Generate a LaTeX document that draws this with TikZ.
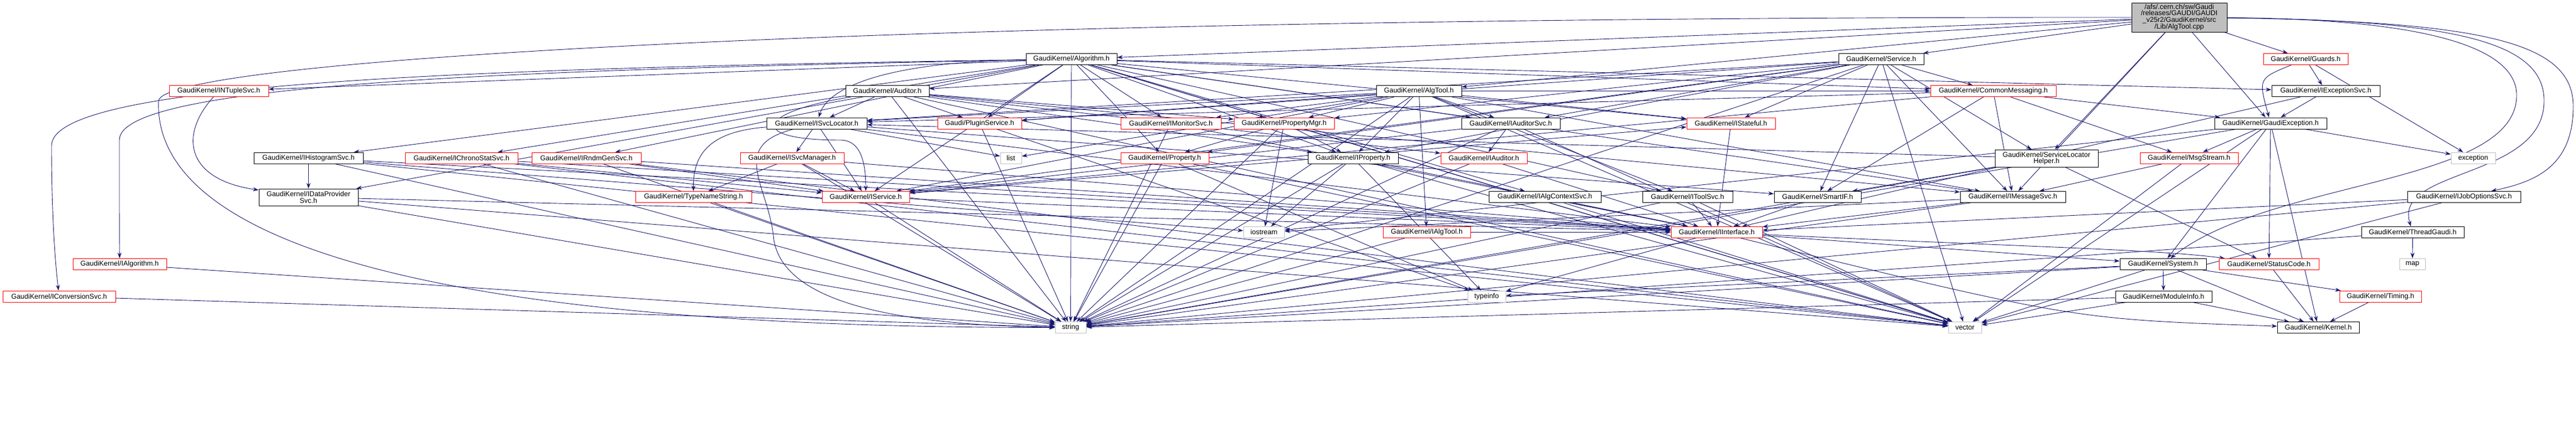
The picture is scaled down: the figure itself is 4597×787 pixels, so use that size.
\documentclass[tikz,border=0pt]{standalone}
\usepackage{fontspec}
\setmainfont{Liberation Sans}
\usetikzlibrary{arrows.meta}
\definecolor{edgec}{HTML}{191970}
\definecolor{grayb}{HTML}{BFBFBF}
\definecolor{ttlfill}{HTML}{BFBFBF}
\pgfdeclarelayer{bg}
\pgfsetlayers{bg,main}
\tikzset{
  box/.style={draw, fill=white, line width=1pt, inner sep=0pt, minimum height=20pt,
    align=center, font=\fontsize{12.5pt}{11.2pt}\selectfont},
  bk/.style={box, draw=black},
  rd/.style={box, draw=red},
  gy/.style={box, draw=grayb},
  e/.style={draw=edgec, line width=0.9pt, -{Stealth[length=10pt,width=7pt]}},
}
\begin{document}
\begin{tikzpicture}[x=1pt,y=-1pt]
\useasboundingbox (0,0) rectangle (4597,787);
% row 0
\node[bk,fill=ttlfill,minimum width=170pt,minimum height=52pt] (T) at (3889,31)
  {/afs/.cern.ch/sw/Gaudi\\/releases/GAUDI/GAUDI\\\_v25r2/GaudiKernel/src\\/Lib/AlgTool.cpp};
% row 1
\node[bk,minimum width=162pt] (Alg) at (1912,105.5) {GaudiKernel/Algorithm.h};
\node[bk,minimum width=152pt] (Svc) at (3357,105.5) {GaudiKernel/Service.h};
\node[rd,minimum width=151pt] (Guards) at (4114.5,105.5) {GaudiKernel/Guards.h};
% row 2
\node[rd,minimum width=177pt] (INTuple) at (390.5,162.5) {GaudiKernel/INTupleSvc.h};
\node[bk,minimum width=149pt] (Auditor) at (1583.5,162.5) {GaudiKernel/Auditor.h};
\node[bk,minimum width=152pt] (AlgTool) at (2532,162.5) {GaudiKernel/AlgTool.h};
\node[rd,minimum width=224pt] (CommonMsg) at (3557,162.5) {GaudiKernel/CommonMessaging.h};
\node[bk,minimum width=193pt] (IExcSvc) at (4150.5,162.5) {GaudiKernel/IExceptionSvc.h};
% row 3
\node[bk,minimum width=179pt] (ISvcLoc) at (1457.5,220) {GaudiKernel/ISvcLocator.h};
\node[rd,minimum width=150pt] (Plugin) at (1748,220) {Gaudi/PluginService.h};
\node[rd,minimum width=179pt] (IMonSvc) at (2089.5,220) {GaudiKernel/IMonitorSvc.h};
\node[rd,minimum width=179pt] (PropMgr) at (2291.5,220) {GaudiKernel/PropertyMgr.h};
\node[bk,minimum width=176pt] (IAudSvc) at (2696,220) {GaudiKernel/IAuditorSvc.h};
\node[rd,minimum width=158pt] (IStateful) at (3089,220) {GaudiKernel/IStateful.h};
\node[bk,minimum width=200pt] (GExc) at (4052,220) {GaudiKernel/GaudiException.h};
% row 4
\node[bk,minimum width=195pt] (IHist) at (550.5,282) {GaudiKernel/IHistogramSvc.h};
\node[rd,minimum width=201pt] (IChrono) at (823.5,282) {GaudiKernel/IChronoStatSvc.h};
\node[rd,minimum width=195pt] (IRndm) at (1046.5,282) {GaudiKernel/IRndmGenSvc.h};
\node[rd,minimum width=185pt] (ISvcMgr) at (1413.5,282) {GaudiKernel/ISvcManager.h};
\node[gy,minimum width=38pt] (list) at (1804,282) {list};
\node[rd,minimum width=157pt] (Prop) at (2078.5,282) {GaudiKernel/Property.h};
\node[bk,minimum width=161pt] (IProp) at (2414.5,282) {GaudiKernel/IProperty.h};
\node[rd,minimum width=154pt] (IAud) at (2648,282) {GaudiKernel/IAuditor.h};
\node[bk,minimum width=184pt,minimum height=31pt] (SLH) at (3652,282.5) {GaudiKernel/ServiceLocator\\Helper.h};
\node[rd,minimum width=175pt] (MsgStr) at (3906.5,282) {GaudiKernel/MsgStream.h};
\node[gy,minimum width=79pt] (exception) at (4413.5,282) {exception};
% row 5
\node[bk,minimum width=177pt,minimum height=30pt] (IDP) at (550.5,352) {GaudiKernel/IDataProvider\\Svc.h};
\node[rd,minimum width=207pt] (TNS) at (1237.5,351.5) {GaudiKernel/TypeNameString.h};
\node[rd,minimum width=156pt] (IService) at (1545,351.5) {GaudiKernel/IService.h};
\node[bk,minimum width=200pt] (IAlgCtx) at (2757,351.5) {GaudiKernel/IAlgContextSvc.h};
\node[bk,minimum width=161pt] (IToolSvc) at (3011.5,351.5) {GaudiKernel/IToolSvc.h};
\node[bk,minimum width=155pt] (SmartIF) at (3243.5,351.5) {GaudiKernel/SmartIF.h};
\node[bk,minimum width=188pt] (IMsgSvc) at (3592,351.5) {GaudiKernel/IMessageSvc.h};
\node[bk,minimum width=202pt] (IJobOpt) at (4397,351.5) {GaudiKernel/IJobOptionsSvc.h};
% row 6
\node[gy,minimum width=73pt] (iostream) at (2255.5,414.5) {iostream};
\node[rd,minimum width=156pt] (IAlgTool) at (2546,414.5) {GaudiKernel/IAlgTool.h};
\node[rd,minimum width=163pt] (IInterface) at (3063.5,414.5) {GaudiKernel/IInterface.h};
\node[bk,minimum width=183pt] (ThreadG) at (4305.5,414.5) {GaudiKernel/ThreadGaudi.h};
% row 7
\node[rd,minimum width=167pt] (IAlgorithm) at (213.5,471.5) {GaudiKernel/IAlgorithm.h};
\node[bk,minimum width=154pt] (System) at (3860,471.5) {GaudiKernel/System.h};
\node[rd,minimum width=178pt] (StatusCode) at (4049,471.5) {GaudiKernel/StatusCode.h};
\node[gy,minimum width=46pt] (map) at (4305,471.5) {map};
% row 8
\node[rd,minimum width=201pt] (IConv) at (105.5,529) {GaudiKernel/IConversionSvc.h};
\node[gy,minimum width=68pt] (typeinfo) at (2653,529) {typeinfo};
\node[bk,minimum width=172pt] (ModuleInfo) at (3861,529) {GaudiKernel/ModuleInfo.h};
\node[rd,minimum width=146pt] (Timing) at (4248,529) {GaudiKernel/Timing.h};
% row 9
\node[gy,minimum width=55pt] (string) at (1910.5,584.5) {string};
\node[gy,minimum width=59pt] (vector) at (3506.5,584.5) {vector};
\node[bk,minimum width=146pt] (Kernel) at (4137,584.5) {GaudiKernel/Kernel.h};

\begin{pgfonlayer}{bg}
\foreach \a/\b in {T/Alg, T/Svc, T/AlgTool, T/Auditor, T/IMsgSvc, T/SLH, T/GExc, T/Guards,
  Alg/IProp, Alg/IService, Alg/PropMgr, Alg/IMsgSvc, Alg/IStateful, Alg/string,
  Alg/vector, Alg/IDP, Alg/IHist, Alg/INTuple, Alg/IChrono, Alg/IRndm, Alg/IAudSvc,
  Alg/IToolSvc, Alg/IMonSvc, Alg/IExcSvc, Alg/IAlgCtx, Alg/Prop, Alg/CommonMsg, Alg/Plugin,
  AlgTool/IAlgTool, AlgTool/IProp, AlgTool/IService, AlgTool/ISvcLoc, AlgTool/IMsgSvc,
  AlgTool/IToolSvc, AlgTool/PropMgr, AlgTool/IAudSvc, AlgTool/IMonSvc, AlgTool/IStateful,
  AlgTool/CommonMsg, AlgTool/Plugin, AlgTool/list, AlgTool/vector, AlgTool/string,
  Svc/IService, Svc/ISvcLoc, Svc/SLH, Svc/IProp, Svc/PropMgr, Svc/Prop, Svc/IAudSvc,
  Svc/CommonMsg, Svc/SmartIF, Svc/IStateful, Svc/Plugin, Svc/IMsgSvc, Svc/string, Svc/vector,
  Auditor/IAud, Auditor/ISvcLoc, Auditor/PropMgr, Auditor/IMsgSvc,
  Auditor/Plugin, Auditor/IProp, Auditor/string, Auditor/vector,
  CommonMsg/IService, CommonMsg/ISvcLoc, CommonMsg/IMsgSvc, CommonMsg/MsgStr,
  CommonMsg/SmartIF, CommonMsg/GExc,
  IHist/IDP, IHist/IInterface, IHist/string, IHist/vector, IHist/iostream,
  IDP/IInterface, IDP/string, IDP/vector,
  IChrono/IService, IChrono/string, IChrono/vector, IChrono/IInterface,
  IRndm/IService, IRndm/string, IRndm/vector, IRndm/IInterface,
  ISvcMgr/TNS, ISvcMgr/IService, ISvcMgr/string, ISvcMgr/IInterface,
  ISvcLoc/ISvcMgr, ISvcLoc/IService, ISvcLoc/IInterface, ISvcLoc/SmartIF,
  ISvcLoc/list,
  IService/IStateful, IService/IInterface, IService/string,
  TNS/string, Plugin/string, Plugin/typeinfo, IMonSvc/string, IMonSvc/IInterface,
  PropMgr/Prop, PropMgr/IProp, PropMgr/iostream, PropMgr/string, PropMgr/vector,
  Prop/string, Prop/typeinfo, Prop/vector,
  IProp/IInterface, IProp/string, IProp/vector, IProp/typeinfo, IProp/iostream,
  IAud/IInterface, IAud/string,
  IAudSvc/IAud, IAudSvc/IService, IAudSvc/string, IAudSvc/vector,
  IAlgCtx/IInterface, IAlgCtx/vector, IAlgTool/IInterface, IAlgTool/string,
  IStateful/IInterface, IToolSvc/IInterface, IToolSvc/string, IToolSvc/vector,
  SmartIF/IInterface, IInterface/System, IInterface/typeinfo,
  IMsgSvc/IInterface, IMsgSvc/string, IMsgSvc/iostream,
  IJobOpt/IInterface, IJobOpt/string, IJobOpt/vector,
  IExcSvc/GExc, IExcSvc/IInterface, Guards/IExcSvc, Guards/exception,
  GExc/MsgStr, GExc/exception, GExc/System, GExc/StatusCode, GExc/Kernel, GExc/vector,
  GExc/iostream, GExc/string, MsgStr/IMsgSvc, MsgStr/vector,
  SLH/ISvcLoc, SLH/SmartIF, SLH/StatusCode, SLH/string,
  ThreadG/map, ThreadG/string,
  System/ModuleInfo, System/Kernel, System/vector, System/string, System/typeinfo, System/Timing,
  StatusCode/Kernel, ModuleInfo/Kernel, ModuleInfo/vector, ModuleInfo/string,
  Timing/Kernel, IConv/string, IAlgorithm/string}
  \draw[e] (\a) -- (\b);
% curved routes
\draw[e] (T) .. controls (1500,30) and (290,110) .. (283,180) .. controls (276,350) and (500,585) .. (string);
\draw[e] (T) .. controls (4450,38) and (4592,80) .. (4592,190) .. controls (4592,300) and (4520,325) .. (IJobOpt);
\draw[e] (T) .. controls (4400,36) and (4540,80) .. (4540,180) .. controls (4540,320) and (4270,300) .. (ThreadG);
\draw[e] (T) .. controls (4350,34) and (4491,90) .. (4491,170) .. controls (4491,330) and (4050,320) .. (System);
\draw[e] (Alg) .. controls (800,122) and (92,150) .. (92,260) .. controls (92,400) and (100,480) .. (IConv);
\draw[e] (Alg) .. controls (900,125) and (213,150) .. (213,250) .. controls (213,350) and (213,420) .. (IAlgorithm);
\draw[e] (Alg) .. controls (1600,110) and (1480,150) .. (ISvcLoc);
\draw[e] (INTuple) .. controls (320,240) and (330,320) .. (IDP);
\draw[e] (Auditor) .. controls (1350,200) and (1330,250) .. (1500,250) .. controls (1540,250) and (1545,300) .. (IService);
\draw[e] (ISvcLoc) .. controls (1260,235) and (1237,280) .. (TNS);
\draw[e] (ISvcLoc) .. controls (1300,260) and (1370,330) .. (1380,420) .. controls (1390,540) and (1600,580) .. (string);
\draw[e] (Guards) .. controls (4030,140) .. (GExc);
\draw[e] (IInterface) .. controls (3700,570) .. (Kernel);
\draw[e] (IInterface) .. controls (3600,440) and (3850,445) .. (StatusCode);
\end{pgfonlayer}
\end{tikzpicture}
\end{document}
